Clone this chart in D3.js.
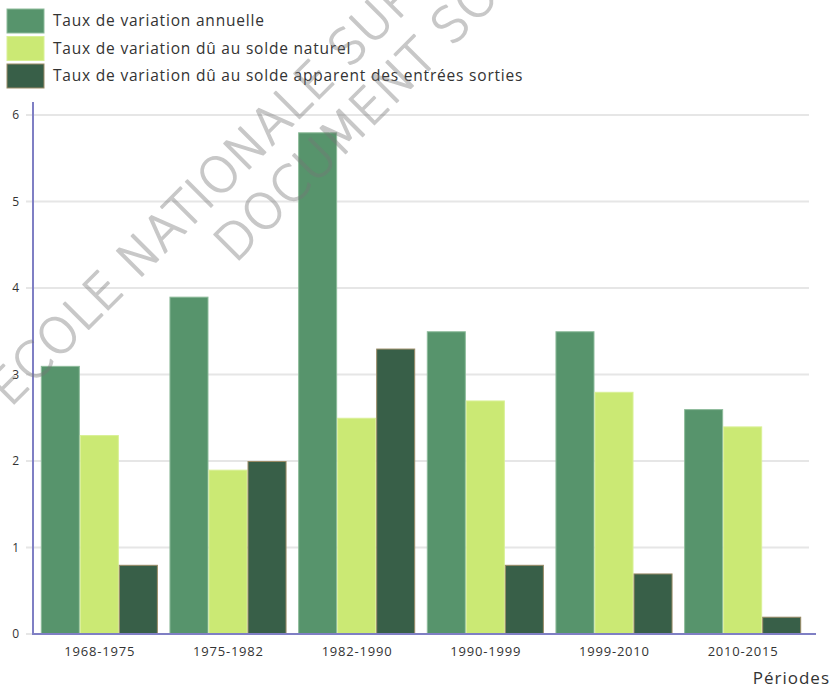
<!DOCTYPE html>
<html>
<head>
<meta charset="utf-8">
<script src="https://cdn.jsdelivr.net/npm/d3@7"></script>
<style>
  body { margin: 0; background: #fff; }
  svg { font-family: "Open Sans", sans-serif; display: block; }
</style>
</head>
<body>
<div id="chart"></div>
<script>
// Data
const periods = ["1968-1975", "1975-1982", "1982-1990", "1990-1999", "1999-2010", "2010-2015"];
const seriesNames = [
    "Taux de variation annuelle",
    "Taux de variation dû au solde naturel",
    "Taux de variation dû au solde apparent des entrées sorties"
];
const annuelle = [3.1, 3.9, 5.8, 3.5, 3.5, 2.6];
const soldeNaturel = [2.3, 1.9, 2.5, 2.7, 2.8, 2.4];
const soldeApparent = [0.8, 2.0, 3.3, 0.8, 0.7, 0.2];
const yTicks = [0, 1, 2, 3, 4, 5, 6];
const xTitle = "Périodes";
const watermark = ["ECOLE NATIONALE SUPERIEURE", "DOCUMENT SOUMIS"];

const colors = ["#57946c", "#cbe974", "#385f48"];
const strokes = ["#8dbb9a", "#d9f096", "#9a8b66"];

const width = 832, height = 689;
const svg = d3.select("#chart").append("svg")
    .attr("width", width)
    .attr("height", height);

const x0 = d3.scaleBand().domain(periods).range([35, 807]).paddingInner(0.09).paddingOuter(0.045);
const x1 = d3.scaleBand().domain(d3.range(3)).range([0, x0.bandwidth()]);
const y = d3.scaleLinear().domain([0, 6]).range([634, 115]);

// grid lines
svg.append("g")
    .selectAll("line")
    .data(yTicks)
    .join("line")
    .attr("x1", 26).attr("x2", 809)
    .attr("y1", d => y(d)).attr("y2", d => y(d))
    .attr("stroke", "#e6e6e6")
    .attr("stroke-width", 2);

// y tick labels
svg.append("g")
    .selectAll("text")
    .data(yTicks)
    .join("text")
    .attr("x", 19)
    .attr("y", d => y(d))
    .attr("dy", "0.35em")
    .attr("text-anchor", "end")
    .attr("font-size", 12)
    .attr("fill", "#333")
    .text(d => d);

// bars
const rows = periods.map((p, i) => ({ period: p, values: [annuelle[i], soldeNaturel[i], soldeApparent[i]] }));
svg.append("g")
    .selectAll("g")
    .data(rows)
    .join("g")
    .attr("transform", d => `translate(${x0(d.period)},0)`)
    .selectAll("rect")
    .data(d => d.values.map((v, k) => ({ v, k })))
    .join("rect")
    .attr("x", d => x1(d.k) + 0.5)
    .attr("width", x1.bandwidth() - 1)
    .attr("y", d => y(d.v) + 0.5)
    .attr("height", d => y(0) - y(d.v))
    .attr("fill", d => colors[d.k])
    .attr("stroke", d => strokes[d.k])
    .attr("stroke-width", 1);

// axes lines
svg.append("line")
    .attr("x1", 33).attr("x2", 33)
    .attr("y1", 102).attr("y2", 635)
    .attr("stroke", "#7f7fc4").attr("stroke-width", 2);
svg.append("line")
    .attr("x1", 32).attr("x2", 816)
    .attr("y1", 634).attr("y2", 634)
    .attr("stroke", "#7f7fc4").attr("stroke-width", 2);

// x labels
svg.append("g")
    .selectAll("text")
    .data(periods)
    .join("text")
    .attr("x", d => x0(d) + x0.bandwidth() / 2 + 0.4)
    .attr("y", 651)
    .attr("dy", "0.35em")
    .attr("text-anchor", "middle")
    .attr("font-size", 13)
    .attr("letter-spacing", 0.8)
    .attr("fill", "#333")
    .text(d => d);

svg.append("text")
    .attr("x", 830)
    .attr("y", 678)
    .attr("dy", "0.35em")
    .attr("text-anchor", "end")
    .attr("font-size", 17)
    .attr("letter-spacing", 1)
    .attr("fill", "#333")
    .text(xTitle);

// legend
const legend = svg.append("g")
    .selectAll("g")
    .data(seriesNames)
    .join("g")
    .attr("transform", (d, i) => `translate(7,${9 + i * 27.5})`);
legend.append("rect")
    .attr("width", 37).attr("height", 24)
    .attr("fill", (d, i) => colors[i])
    .attr("stroke", (d, i) => strokes[i]);
legend.append("text")
    .attr("x", 46)
    .attr("y", 12)
    .attr("dy", "0.35em")
    .attr("font-size", 15.5)
    .attr("letter-spacing", 0.8)
    .attr("fill", "#333")
    .text(d => d);

// watermark (faded text over the chart)
const wm = svg.append("g")
    .attr("pointer-events", "none")
    .attr("opacity", 0.4)
    .attr("fill", "#777")
    .attr("stroke", "#777")
    .attr("stroke-width", 1.6)
    .attr("stroke-linejoin", "round")
    .style("font-family", "'DejaVu Sans', sans-serif")
    .attr("font-weight", 200)
    .attr("font-size", 49)
    .attr("letter-spacing", 0.5);
wm.append("text")
    .attr("transform", "translate(10,408) rotate(-45)")
    .text(watermark[0]);
wm.append("text")
    .attr("transform", "translate(235,264) rotate(-45)")
    .text(watermark[1]);
</script>
</body>
</html>
